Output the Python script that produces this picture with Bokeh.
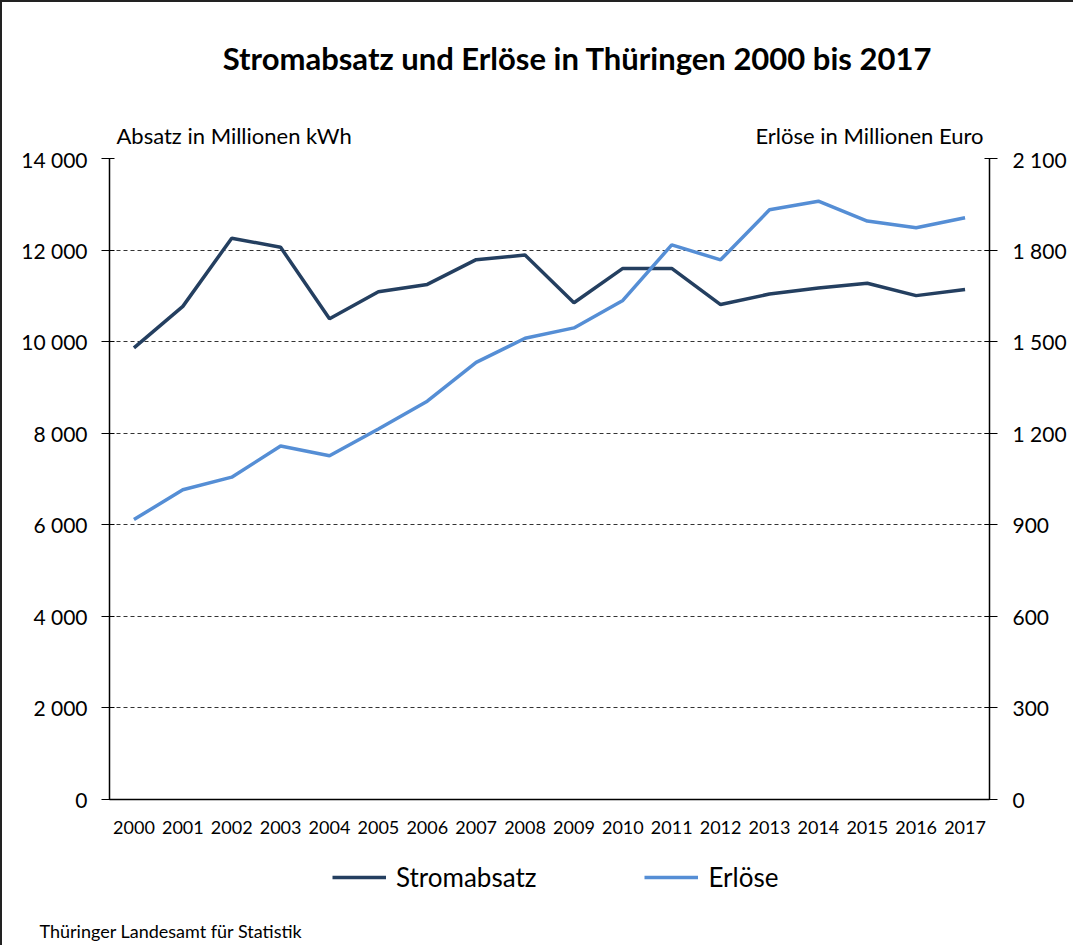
from bokeh.plotting import figure
from bokeh.layouts import column
from bokeh.models import (Range1d, FactorRange, LinearAxis, SingleIntervalTicker,
                          CustomJSTickFormatter, Label, Legend, LegendItem, Title)
from bokeh.embed import file_html
from bokeh.resources import INLINE

years = [str(y) for y in range(2000, 2018)]
stromabsatz = [9865, 10770, 12260, 12060, 10500, 11090, 11250, 11790, 11890,
               10850, 11600, 11600, 10810, 11040, 11170, 11275, 11005, 11140]
erloese = [917, 1015, 1056, 1158, 1126, 1214, 1305, 1432, 1511,
           1545, 1635, 1817, 1768, 1932, 1960, 1895, 1873, 1906]

title_text = "Stromabsatz und Erlöse in Thüringen 2000 bis 2017"
left_heading = "Absatz in Millionen kWh"
right_heading = "Erlöse in Millionen Euro"
source_text = "Thüringer Landesamt für Statistik"
series_names = ["Stromabsatz", "Erlöse"]

FONT = "Lato"
DARK = "#243f60"
LIGHT = "#558ed5"
W = 1071
H_HEAD, H_MAIN, H_FOOT = 144, 703, 96


def lbl(f, text, x, y, size, align="left", baseline="alphabetic", style="normal"):
    f.add_layout(Label(x=x, y=y, x_units="screen", y_units="screen", text=text,
                       text_font=FONT, text_font_size=size,
                       text_align=align, text_baseline=baseline,
                       text_font_style=style, text_color="black"))


def strip(height, x_range, y_range):
    f = figure(width=W, height=height, output_backend="svg", toolbar_location=None,
               x_axis_type=None, y_axis_type=None, x_range=x_range, y_range=y_range,
               min_border=0, min_border_left=0, min_border_right=0,
               min_border_top=0, min_border_bottom=0)
    f.outline_line_color = None
    f.grid.grid_line_color = None
    f.background_fill_color = "white"
    f.border_fill_color = "white"
    return f


# ---------------- header: title and axis headings ----------------
head = strip(H_HEAD, Range1d(0, 1), Range1d(0, 1))
lbl(head, title_text, 468, 89, "31px", align="center", baseline="middle", style="bold")
lbl(head, left_heading, 7, 11, "22px")
lbl(head, right_heading, 874, 11, "22px", align="right")

# ---------------- main chart ----------------
p = figure(width=W, height=H_MAIN, output_backend="svg", toolbar_location=None,
           x_range=FactorRange(*years), y_range=Range1d(0, 14000),
           min_border_left=107, min_border_right=84, min_border_top=12,
           min_border_bottom=50)
p.outline_line_color = None
p.background_fill_color = "white"
p.border_fill_color = "white"
p.extra_y_ranges = {"right": Range1d(0, 2100)}

fmt = CustomJSTickFormatter(code="""
return tick.toFixed(0).replace(/\\B(?=(\\d{3})+(?!\\d))/g, ' ');
""")

ya = p.yaxis[0]
ya.ticker = SingleIntervalTicker(interval=2000)
ya.formatter = fmt
ra = LinearAxis(y_range_name="right", ticker=SingleIntervalTicker(interval=300),
                formatter=fmt)
p.add_layout(ra, "right")
for ax, st in ((ya, 14), (ra, 15)):
    ax.axis_line_color = "black"
    ax.axis_line_width = 1.5
    ax.major_tick_in = 5
    ax.major_tick_out = 8
    ax.major_tick_line_color = "black"
    ax.minor_tick_line_color = None
    ax.major_label_standoff = st
    ax.major_label_text_font = FONT
    ax.major_label_text_font_size = "21px"
    ax.major_label_text_color = "black"

xa = p.xaxis[0]
xa.axis_line_color = "black"
xa.axis_line_width = 1.5
xa.major_tick_line_color = None
xa.major_tick_out = 0
xa.major_tick_in = 0
xa.major_label_standoff = 21
xa.major_label_text_font = FONT
xa.major_label_text_font_size = "18px"
xa.major_label_text_color = "black"

p.xgrid.grid_line_color = None
p.ygrid.grid_line_color = "#333333"
p.ygrid.grid_line_dash = "4 3"
p.ygrid.grid_line_width = 1

p.line(years, stromabsatz, line_color=DARK, line_width=3.5)
p.line(years, erloese, line_color=LIGHT, line_width=3.5, y_range_name="right")

# ---------------- footer: legend and source ----------------
foot = strip(H_FOOT, FactorRange(*years), Range1d(20000, 30000))
# same series, drawn outside this strip's range: only their legend swatches show
f1 = foot.line(years, stromabsatz, line_color=DARK, line_width=3.5)
f2 = foot.line(years, erloese, line_color=LIGHT, line_width=3.5)

legend = Legend(items=[LegendItem(label=series_names[0], renderers=[f1]),
                       LegendItem(label=series_names[1], renderers=[f2])],
                orientation="horizontal", location=(223, 20),
                glyph_width=54, glyph_height=20, label_standoff=10, spacing=108,
                padding=0, margin=0, border_line_color=None,
                background_fill_alpha=0,
                label_text_font=FONT, label_text_font_size="26px",
                label_text_color="black")
foot.add_layout(legend, "center")
foot.add_layout(Title(text=source_text, align="left", offset=-70, standoff=8,
                      vertical_align="bottom", text_font=FONT,
                      text_font_size="18px", text_font_style="normal",
                      text_color="black"), "below")

page = column(head, p, foot, spacing=0)
page.styles = {"border-left": "2px solid #222", "border-top": "2px solid #222"}

open("out.html", "w").write(file_html(page, INLINE))
